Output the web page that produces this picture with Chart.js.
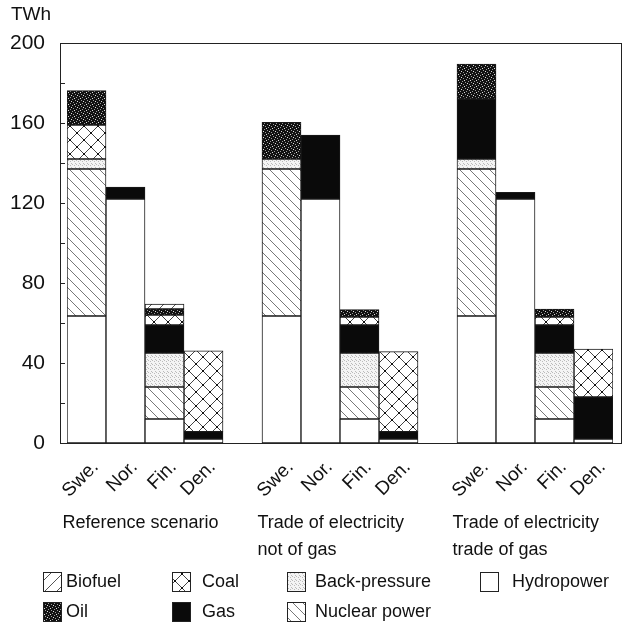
<!DOCTYPE html>
<html>
<head>
<meta charset="utf-8">
<script src="https://cdn.jsdelivr.net/npm/chart.js@4"></script>
<style>
  body { margin: 0; background: #fff; }
  canvas { display: block; }
</style>
</head>
<body>
<canvas id="energyChart" width="631" height="622"></canvas>
<script>
const countries = ["Swe.", "Nor.", "Fin.", "Den."];
const scenarios = [
  ["Reference scenario"],
  ["Trade of electricity", "not of gas"],
  ["Trade of electricity", "trade of gas"]
];
const yTicks = [0, 40, 80, 120, 160, 200];

// TWh per country, three scenarios in a row (Swe, Nor, Fin, Den)
const hydropower   = [63.5, 122, 12, 2,   63.5, 122, 12, 2,   63.5, 122, 12, 2];
const nuclearPower = [73.5, 0, 16, 0,     73.5, 0, 16, 0,     73.5, 0, 16, 0];
const backPressure = [5, 0, 17, 0,        5, 0, 17, 0,        5, 0, 17, 0];
const gas          = [0, 6, 14, 3.7,      0, 32, 14, 3.7,     30, 3.3, 14, 21];
const coal         = [17, 0, 5, 40.4,     0, 0, 4, 40,        0, 0, 4, 24];
const oil          = [17.2, 0, 3, 0,      18.3, 0, 3.7, 0,    17.5, 0, 4, 0];
const biofuel      = [0, 0, 2.4, 0,       0, 0, 0, 0,         0, 0, 0, 0];

const FONT = "'Liberation Sans', Arial, Helvetica, sans-serif";
const INK = "#111";

function makePattern(size, draw) {
  const c = document.createElement("canvas");
  c.width = size;
  c.height = size;
  const g = c.getContext("2d");
  draw(g, size);
  return g.createPattern(c, "repeat");
}

const fills = {
  hydro: "#ffffff",
  gas: "#0a0a0a",
  nuclear: makePattern(10, (g, s) => {
    g.fillStyle = "#fff"; g.fillRect(0, 0, s, s);
    g.strokeStyle = "#777"; g.lineWidth = 1;
    g.beginPath(); g.moveTo(-1, -1); g.lineTo(s + 1, s + 1); g.stroke();
  }),
  biofuel: makePattern(12, (g, s) => {
    g.fillStyle = "#fff"; g.fillRect(0, 0, s, s);
    g.strokeStyle = "#555"; g.lineWidth = 1;
    g.beginPath(); g.moveTo(-1, s + 1); g.lineTo(s + 1, -1); g.stroke();
  }),
  coal: makePattern(14, (g, s) => {
    g.fillStyle = "#fff"; g.fillRect(0, 0, s, s);
    g.strokeStyle = "#444"; g.lineWidth = 1;
    g.beginPath();
    g.moveTo(0, 0); g.lineTo(s, s);
    g.moveTo(0, s); g.lineTo(s, 0);
    g.stroke();
    g.fillStyle = "#111";
    g.fillRect(s / 2 - 1, s / 2 - 1, 2, 2);
    g.fillRect(0, 0, 1, 1); g.fillRect(s - 1, 0, 1, 1);
    g.fillRect(0, s - 1, 1, 1); g.fillRect(s - 1, s - 1, 1, 1);
  }),
  back: makePattern(4, (g, s) => {
    g.fillStyle = "#f4f4f4"; g.fillRect(0, 0, s, s);
    g.fillStyle = "#bbb";
    g.fillRect(0, 0, 1, 1); g.fillRect(2, 1, 1, 1);
    g.fillRect(3, 3, 1, 1);
  }),
  oil: makePattern(6, (g, s) => {
    g.fillStyle = "#111"; g.fillRect(0, 0, s, s);
    g.fillStyle = "#999";
    g.fillRect(1, 0, 1, 1); g.fillRect(4, 1, 1, 1);
    g.fillRect(0, 3, 1, 1); g.fillRect(3, 4, 1, 1);
    g.fillStyle = "#ddd";
    g.fillRect(2, 2, 1, 1); g.fillRect(5, 5, 1, 1);
  })
};

// a blank slot between scenario groups
const labels = [];
scenarios.forEach((s, i) => {
  if (i > 0) labels.push("");
  countries.forEach(c => labels.push(c));
});
function spread(vals) {
  const out = [];
  scenarios.forEach((s, i) => {
    if (i > 0) out.push(null);
    countries.forEach((c, j) => {
      const v = vals[i * countries.length + j];
      out.push(v ? v : null);
    });
  });
  return out;
}

function ds(label, vals, fill) {
  return {
    label: label,
    data: spread(vals),
    backgroundColor: fill,
    borderColor: "#1a1a1a",
    borderWidth: 1,
    borderSkipped: false,
    barPercentage: 1,
    categoryPercentage: 1
  };
}

// bottom to top
const datasets = [
  ds("Hydropower", hydropower, fills.hydro),
  ds("Nuclear power", nuclearPower, fills.nuclear),
  ds("Back-pressure", backPressure, fills.back),
  ds("Gas", gas, fills.gas),
  ds("Coal", coal, fills.coal),
  ds("Oil", oil, fills.oil),
  ds("Biofuel", biofuel, fills.biofuel)
];

const legendRows = [
  [["Biofuel", fills.biofuel, 43, 66], ["Coal", fills.coal, 172, 202], ["Back-pressure", fills.back, 287, 315], ["Hydropower", fills.hydro, 480, 512]],
  [["Oil", fills.oil, 43, 66], ["Gas", fills.gas, 172, 202], ["Nuclear power", fills.nuclear, 287, 315]]
];

const decorations = {
  id: "decorations",
  afterDraw(chart) {
    const ctx = chart.ctx;
    const xs = chart.scales.x;
    const ys = chart.scales.y;
    const area = chart.chartArea;
    ctx.save();

    // frame box
    ctx.strokeStyle = "#222";
    ctx.lineWidth = 1;
    ctx.strokeRect(60.5, area.top + 0.5, 561, area.bottom - area.top);

    // inward minor ticks
    ctx.beginPath();
    for (let v = 20; v < 200; v += 20) {
      const y = Math.round(ys.getPixelForValue(v)) + 0.5;
      ctx.moveTo(60, y);
      ctx.lineTo(65, y);
    }
    ctx.stroke();

    ctx.fillStyle = INK;
    ctx.textBaseline = "middle";
    ctx.textAlign = "left";
    ctx.font = "19px " + FONT;
    ctx.fillText("TWh", 11, 15);

    ctx.font = "18px " + FONT;
    // scenario names under each group
    scenarios.forEach((lines, i) => {
      const x = xs.getPixelForValue(i * (countries.length + 1)) - 24;
      lines.forEach((t, k) => ctx.fillText(t, x, 523 + k * 27));
    });

    // legend
    legendRows.forEach((row, r) => {
      const top = 572 + r * 30;
      row.forEach(([name, fill, bx, tx]) => {
        ctx.fillStyle = fill;
        ctx.fillRect(bx, top, 18, 19);
        ctx.strokeStyle = "#222";
        ctx.strokeRect(bx + 0.5, top + 0.5, 18, 19);
        ctx.fillStyle = INK;
        ctx.fillText(name, tx, top + 10);
      });
    });
    ctx.restore();
  }
};

new Chart(document.getElementById("energyChart"), {
  type: "bar",
  data: { labels: labels, datasets: datasets },
  options: {
    responsive: false,
    animation: false,
    layout: { padding: { top: 43, right: 18, left: 0, bottom: 0 } },
    plugins: {
      legend: { display: false },
      tooltip: { enabled: false }
    },
    scales: {
      x: {
        stacked: true,
        grid: { display: false },
        border: { display: false },
        ticks: {
          autoSkip: false,
          minRotation: 45,
          maxRotation: 45,
          labelOffset: 9,
          padding: 5,
          color: INK,
          font: { size: 19, family: FONT }
        },
        afterFit: s => { s.height = 179; }
      },
      y: {
        stacked: true,
        min: 0,
        max: 200,
        afterBuildTicks: s => { s.ticks = yTicks.map(v => ({ value: v })); },
        grid: { display: false, drawTicks: false },
        border: { display: false },
        ticks: {
          padding: 22,
          color: INK,
          font: { size: 21, family: FONT }
        },
        afterFit: s => { s.width = 67; }
      }
    }
  },
  plugins: [decorations]
});
</script>
</body>
</html>
